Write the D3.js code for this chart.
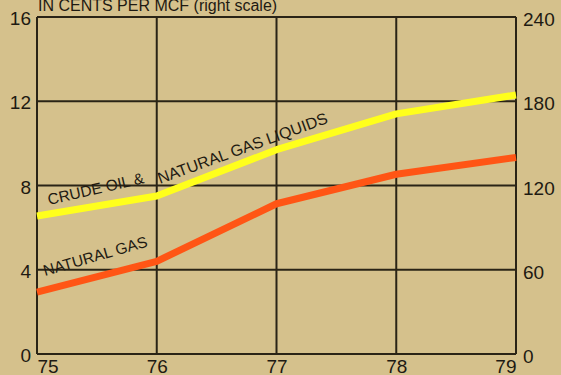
<!DOCTYPE html>
<html><head><meta charset="utf-8">
<script src="https://cdn.jsdelivr.net/npm/d3@7"></script>
<style>
body{margin:0;background:#d5c18c;}
svg{display:block;font-family:"Liberation Sans",Arial,sans-serif;}
</style></head>
<body><svg id="c" width="561" height="375"></svg>
<script>
const years = ["75","76","77","78","79"];
const leftTicks = [0,4,8,12,16];
const rightTicks = [0,60,120,180,240];
const crudeOil = [6.55, 7.5, 9.7, 11.4, 12.3];      // left scale
const naturalGas = [44, 66, 107, 128, 140];          // right scale (cents per MCF)
const titleText = "IN CENTS PER MCF (right scale)";

const svg = d3.select("#c");
const m = {l:37, r:516, t:17, b:354};
const x = d3.scalePoint().domain(years).range([m.l, m.r]);
const yL = d3.scaleLinear().domain([0,16]).range([m.b, m.t]);
const yR = d3.scaleLinear().domain([0,240]).range([m.b, m.t]);
const ink = "#2a2416";

svg.append("rect").attr("width",561).attr("height",375).attr("fill","#d5c18c");

// grid
const g = svg.append("g");
g.selectAll("line.h").data(leftTicks).join("line")
  .attr("x1",m.l).attr("x2",m.r).attr("y1",d=>yL(d)).attr("y2",d=>yL(d))
  .attr("stroke",ink).attr("stroke-width",2);
g.selectAll("line.v").data(years).join("line")
  .attr("x1",d=>x(d)).attr("x2",d=>x(d)).attr("y1",m.t).attr("y2",m.b)
  .attr("stroke",ink).attr("stroke-width",2);

// axes
const fs = 19;
const axL = svg.append("g").attr("transform",`translate(${m.l},0)`)
  .call(d3.axisLeft(yL).tickValues(leftTicks).tickSize(0).tickPadding(6));
const axR = svg.append("g").attr("transform",`translate(${m.r},0)`)
  .call(d3.axisRight(yR).tickValues(rightTicks).tickSize(0).tickPadding(7));
const axB = svg.append("g").attr("transform",`translate(0,${m.b})`)
  .call(d3.axisBottom(x).tickSize(0).tickPadding(5));
[axL,axR,axB].forEach(a=>{
  a.select(".domain").remove();
  a.selectAll("text").attr("font-size",fs).attr("fill","#1e1a12")
   .attr("font-family","Liberation Sans, Arial, sans-serif");
});
axL.selectAll("text").attr("dy","0.4em");
axR.selectAll("text").attr("dy","0.45em");
axB.selectAll("text").attr("dy","0.74em");
axB.selectAll("text").filter((d,i)=>i===0).attr("text-anchor","start");
axB.selectAll("text").filter((d,i)=>i===years.length-1).attr("text-anchor","end");

// title
svg.append("text").attr("x",38).attr("y",11).attr("font-size",16)
  .attr("fill","#1e1a12").text(titleText);

// lines
const lineL = d3.line().x((d,i)=>x(years[i])).y(d=>yL(d));
const lineR = d3.line().x((d,i)=>x(years[i])).y(d=>yR(d));
svg.append("path").datum(crudeOil).attr("d",lineL).attr("fill","none")
  .attr("stroke","#ffff1c").attr("stroke-width",7).attr("stroke-linejoin","round");
svg.append("path").datum(naturalGas).attr("d",lineR).attr("fill","none")
  .attr("stroke","#ff5515").attr("stroke-width",7).attr("stroke-linejoin","round");

// labels
const lab = (t,xx,yy,ang,f)=>svg.append("text")
  .attr("transform",`translate(${xx},${yy}) rotate(${ang})`)
  .attr("font-size",f).attr("fill","#1e1a12").text(t);
lab("CRUDE OIL &",49,205,-13,15.5);
lab("NATURAL GAS LIQUIDS",160,184,-20,16);
lab("NATURAL GAS",45,276,-16,15.5);
</script></body></html>
